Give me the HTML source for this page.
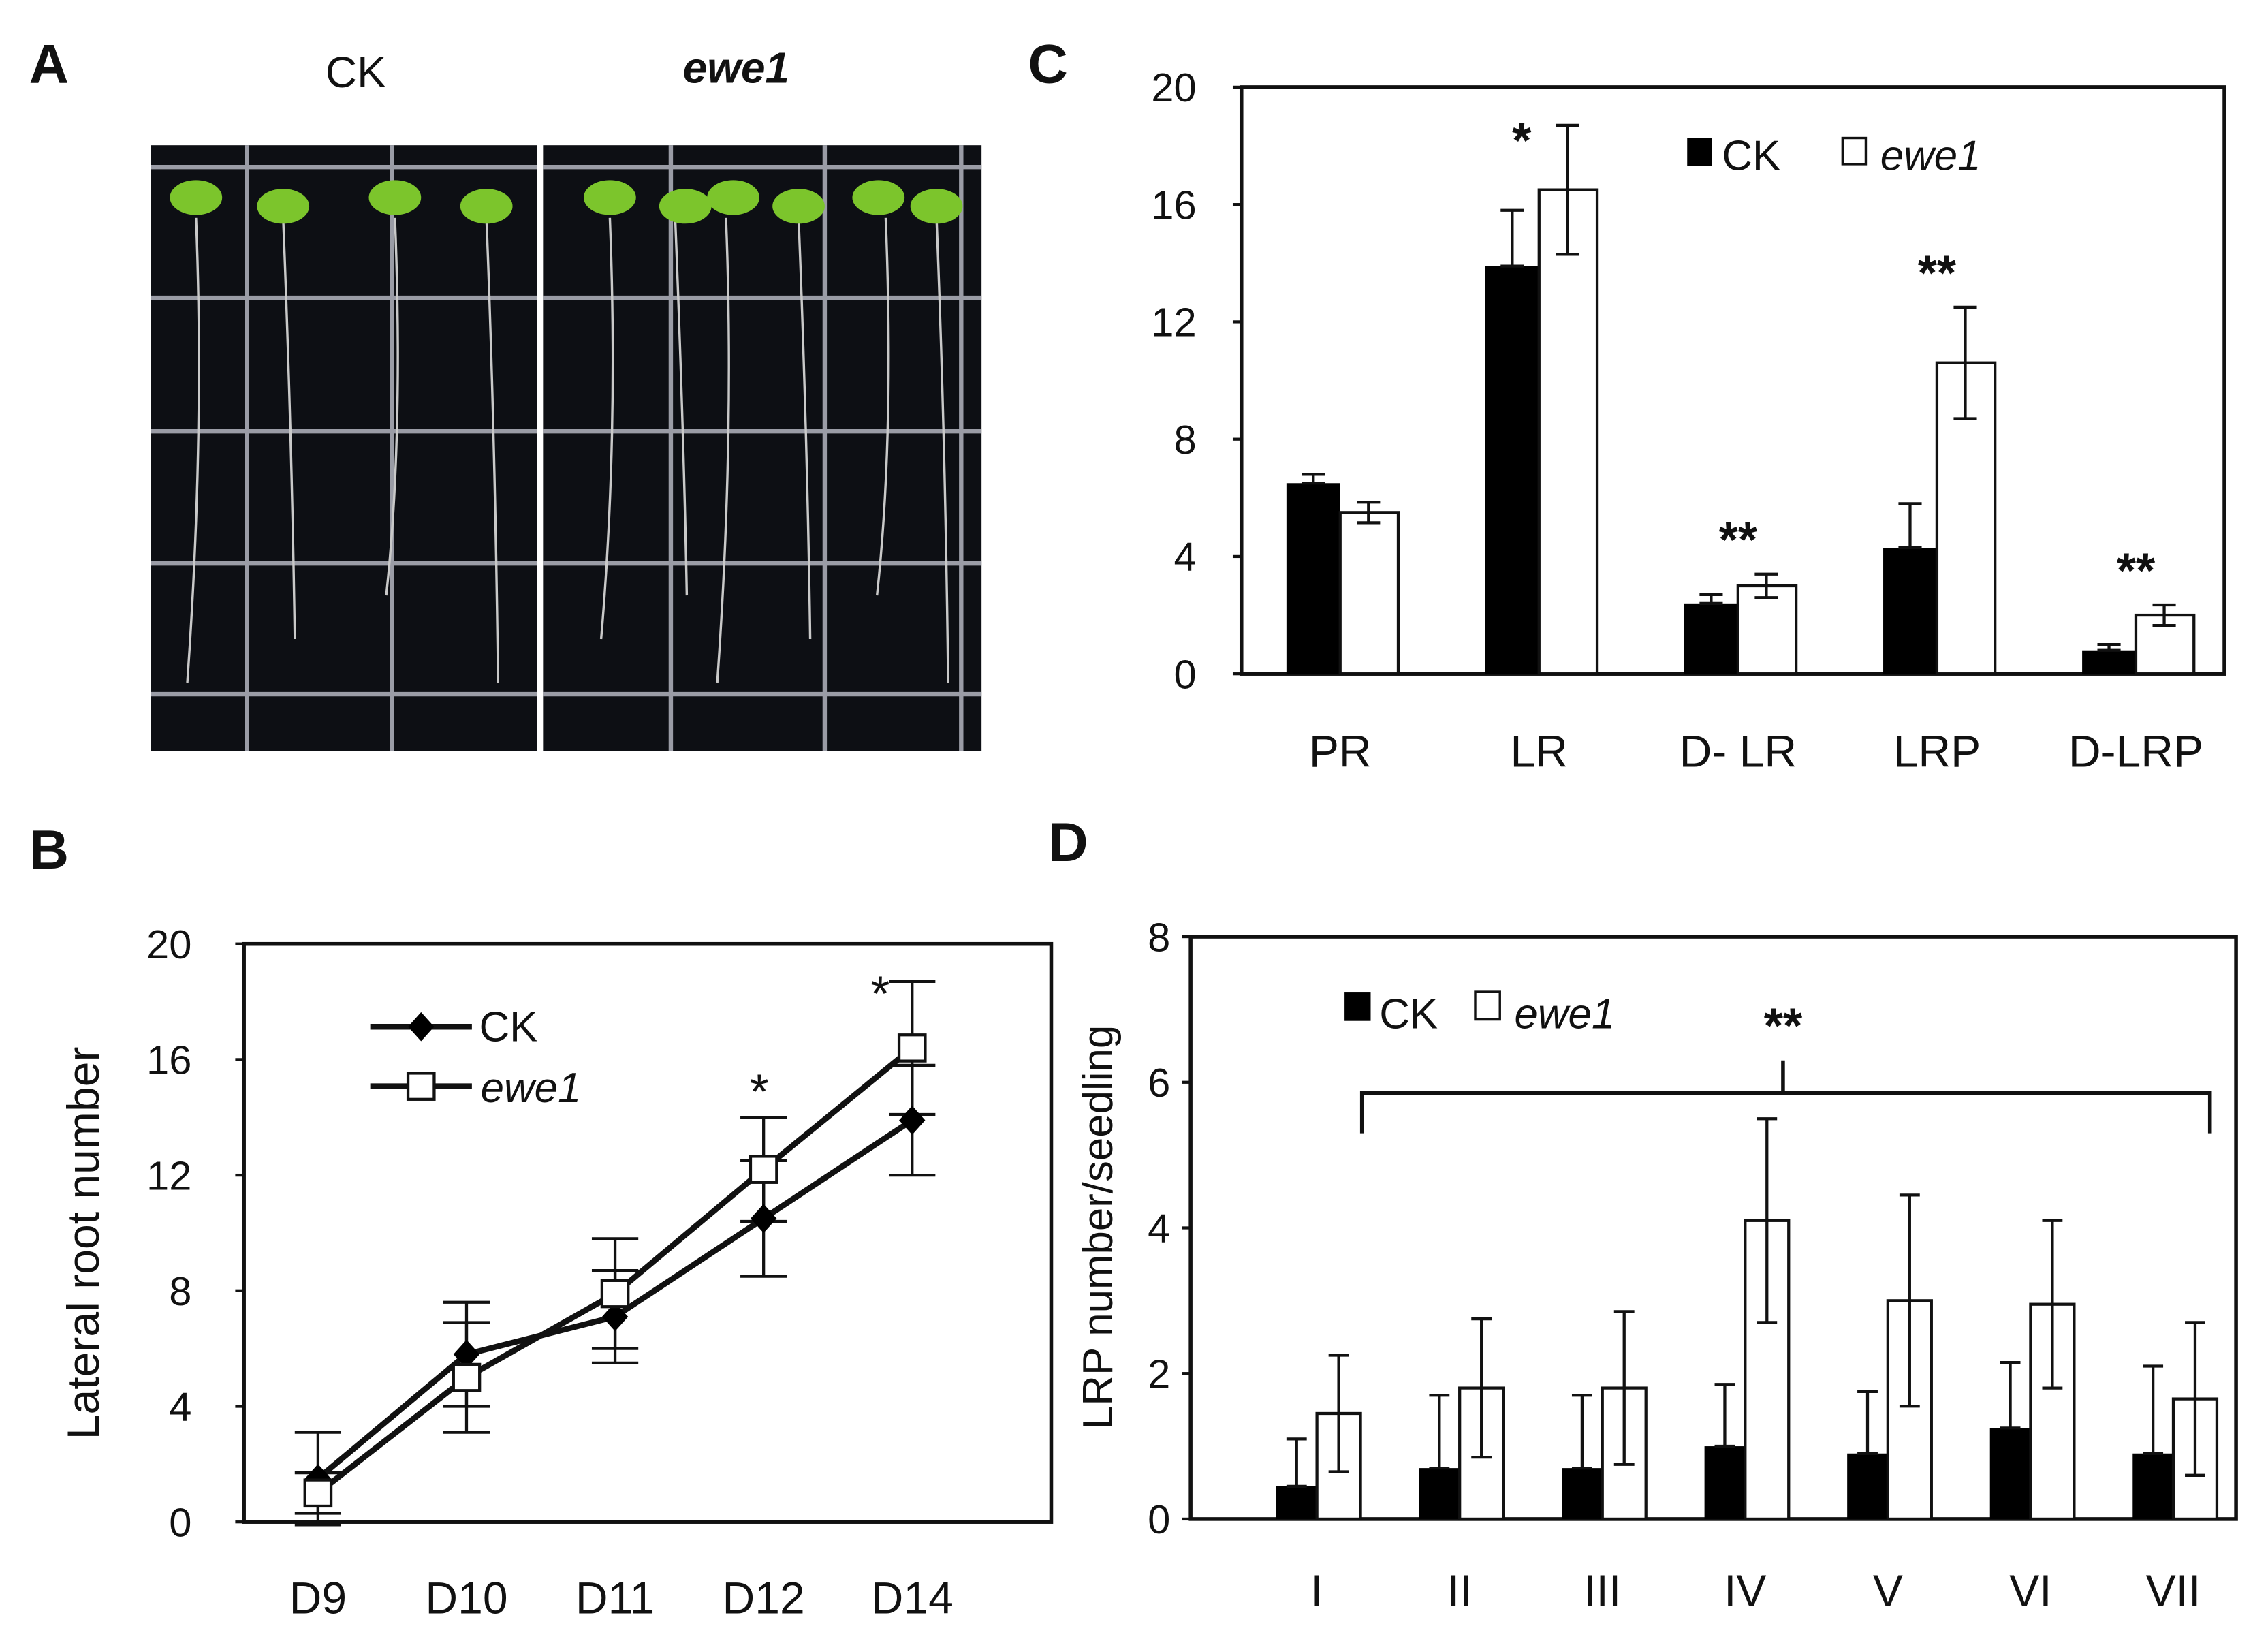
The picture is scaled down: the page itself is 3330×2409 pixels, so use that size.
<!DOCTYPE html>
<html><head><meta charset="utf-8"><style>
html,body{margin:0;padding:0;background:#fff}
svg{display:block}
text{font-family:"Liberation Sans",sans-serif;fill:#111}
</style></head><body>
<svg id="fig" width="3330" height="2409" viewBox="0 0 1562 1130" xmlns="http://www.w3.org/2000/svg">
<g>
<text x="20" y="57" font-size="38" font-weight="bold">A</text>
<text x="245" y="60" font-size="30" text-anchor="middle">CK</text>
<text x="507" y="57" font-size="30" font-style="italic" font-weight="bold" text-anchor="middle">ewe1</text>
<rect x="104" y="100" width="266" height="417" fill="#0d0f14"/>
<rect x="374" y="100" width="302" height="417" fill="#0d0f14"/>
<g id="photoGrid" stroke="#9a9ca6" stroke-width="3"></g>
<g id="photoRoots" stroke="#c9c9c9" stroke-width="1.6" fill="none"></g>
<g id="photoLeaves" fill="#7cc52c"></g>
</g>

<g id="panelB">
<text x="20" y="598" font-size="38" font-weight="bold">B</text>
</g>
<g id="panelC">
<text x="708" y="57" font-size="38" font-weight="bold">C</text>
</g>
<g id="panelD">
<text x="722" y="593" font-size="38" font-weight="bold">D</text>
</g>
</svg>
<script>
// ---- Panel B data
const bCats = ["D9","D10","D11","D12","D14"];
const bCK = [1.5,5.8,7.1,10.5,13.9];
const bCKerr = [1.6,1.8,1.6,2.0,1.9];
const bEwe = [1.0,5.0,7.9,12.2,16.4];
const bEweErr = [0.7,1.9,1.9,1.8,2.3];
const bTicks = [0,4,8,12,16,20];
// ---- Panel C data
const cCats = ["PR","LR","D- LR","LRP","D-LRP"];
const cCK = [6.5,13.9,2.4,4.3,0.8];
const cCKerr = [0.3,1.9,0.3,1.5,0.2];
const cEwe = [5.5,16.5,3.0,10.6,2.0];
const cEweErr = [0.35,2.2,0.4,1.9,0.35];
const cSig = ["","*","**","**","**"];
const cTicks = [0,4,8,12,16,20];
// ---- Panel D data
const dCats = ["I","II","III","IV","V","VI","VII"];
const dCK = [0.45,0.7,0.7,1.0,0.9,1.25,0.9];
const dCKerr = [0.65,1.0,1.0,0.85,0.85,0.9,1.2];
const dEwe = [1.45,1.8,1.8,4.1,3.0,2.95,1.65];
const dEweErr = [0.8,0.95,1.05,1.4,1.45,1.15,1.05];
const dTicks = [0,2,4,6,8];

const NS="http://www.w3.org/2000/svg";
function mk(parent,tag,attrs,txt){const e=document.createElementNS(NS,tag);for(const k in attrs)e.setAttribute(k,attrs[k]);if(txt!==undefined)e.textContent=txt;parent.appendChild(e);return e;}

// ---- Panel A decorations
(function(){
  const g=document.getElementById('photoGrid');
  [[104,370],[374,676]].forEach(([a,b])=>{
    [115,205,297,388,478].forEach(y=>{const l=mk(g,'line',{x1:a,x2:b,y1:y,y2:y});
      
      });
  });
  [170,270,462,568,662].forEach(x=>{const l=mk(g,'line',{x1:x,x2:x,y1:100,y2:517});
    
    });
  const r=document.getElementById('photoRoots');
  [135,195,272,335,420,465,500,550,610,645].forEach((x,i)=>{const p=mk(r,'path',{d:`M${x} 150 Q${x+6} 300 ${x+(i%2?8:-6)} ${470-(i%3)*30}`});
    
    });
  const lv=document.getElementById('photoLeaves');
  [135,195,272,335,420,472,505,550,605,645].forEach((x,i)=>{const c=mk(lv,'ellipse',{cx:x,cy:136+(i%2)*6,rx:18,ry:12});
    
    });
})();

function axisBox(g,L,R,T,B,ticks,max,ticklabelX){
  const y=v=>B-(v/max)*(B-T);
  const box=mk(g,'rect',{x:L,y:T,width:R-L,height:B-T,fill:'none',stroke:'#111','stroke-width':2.6});
  
  
  ticks.forEach(t=>{
    const tl=mk(g,'line',{x1:L-6,x2:L,y1:y(t),y2:y(t),stroke:'#111','stroke-width':2});
    
    
    const tx=mk(g,'text',{x:ticklabelX,y:y(t)+10,'font-size':28,'text-anchor':'end'},String(t));
    
    
  });
  return y;
}
function errBar(g,x,top,bot,cap){
  const p=mk(g,'path',{d:`M${x} ${top}V${bot}M${x-cap} ${top}H${x+cap}M${x-cap} ${bot}H${x+cap}`,stroke:'#111','stroke-width':2,fill:'none'});
  
  
}

// ---- Panel C
(function(){
  const g=document.getElementById('panelC');
  const L=855,R=1532,T=60,B=464,max=20;
  const y=axisBox(g,L,R,T,B,cTicks,max,824);
  const step=137,first=923,bw=37;
  cCats.forEach((c,i)=>{
    const cx=first+i*step;
    const b1=mk(g,'rect',{x:cx-bw,y:y(cCK[i]),width:bw,height:B-y(cCK[i]),fill:'#000'});
    
    
    const b2=mk(g,'rect',{x:cx,y:y(cEwe[i]),width:bw+3,height:B-y(cEwe[i]),fill:'#fff',stroke:'#111','stroke-width':2});
    
    
    errBar(g,cx-bw/2,y(cCK[i]+cCKerr[i]),y(cCK[i]),8);
    errBar(g,cx+bw/2+1,y(cEwe[i]+cEweErr[i]),y(cEwe[i]-cEweErr[i]),8);
    const lb=mk(g,'text',{x:cx,y:528,'font-size':31,'text-anchor':'middle'},c);
    
    
    if(cSig[i]){
      const top=Math.max(cCK[i]+cCKerr[i],cEwe[i]+cEweErr[i]);
      const sx=i===1?cx-12:cx;
      const sy=i===1?y(top)+22:y(top)-12;
      const s=mk(g,'text',{x:sx,y:sy,'font-size':34,'font-weight':'bold','text-anchor':'middle'},cSig[i]);
      
      
    }
  });
  const lk=mk(g,'rect',{x:1162,y:95,width:17,height:19,fill:'#000'});
  
  const lt=mk(g,'text',{x:1186,y:117,'font-size':29},'CK');
  
  const le=mk(g,'rect',{x:1269,y:95,width:16,height:18,fill:'#fff',stroke:'#111','stroke-width':1.6});
  
  const lt2=mk(g,'text',{x:1295,y:117,'font-size':29,'font-style':'italic'},'ewe1');
  
})();

// ---- Panel B
(function(){
  const g=document.getElementById('panelB');
  const L=168,R=724,T=650,B=1048,max=20;
  const y=axisBox(g,L,R,T,B,bTicks,max,132);
  const x=i=>219+i*102.3;
  const title=mk(g,'text',{x:0,y:0,'font-size':31,'text-anchor':'middle',transform:'translate(68,856) rotate(-90)'},'Lateral root number');
  
  bCats.forEach((c,i)=>{
    const lb=mk(g,'text',{x:x(i),y:1111,'font-size':31,'text-anchor':'middle'},c);
    
    errBar(g,x(i),y(bCK[i]+bCKerr[i]),y(bCK[i]-bCKerr[i]),16);
    errBar(g,x(i),y(bEwe[i]+bEweErr[i]),y(bEwe[i]-bEweErr[i]),16);
  });
  const pts=a=>a.map((v,i)=>`${x(i)},${y(v)}`).join(' ');
  const l1=mk(g,'polyline',{points:pts(bCK),fill:'none',stroke:'#111','stroke-width':4});
  
  const l2=mk(g,'polyline',{points:pts(bEwe),fill:'none',stroke:'#111','stroke-width':4});
  
  bCK.forEach((v,i)=>{
    const d=mk(g,'path',{d:`M${x(i)} ${y(v)-10}l9 10l-9 10l-9 -10z`,fill:'#000'});
    
  });
  bEwe.forEach((v,i)=>{
    const s=mk(g,'rect',{x:x(i)-9,y:y(v)-9,width:18,height:18,fill:'#fff',stroke:'#111','stroke-width':2});
    
  });
  [[3,'*'],[4,'*']].forEach(([i,s])=>{
    const top=Math.max(bCK[i]+bCKerr[i],bEwe[i]+bEweErr[i]);
    const t=mk(g,'text',{x:x(i)-(i===4?22:3),y:y(top)-(i===4?-20:12)+(i===3?6:0),'font-size':34,'text-anchor':'middle'},s);
    
  });
  const ll=mk(g,'path',{d:'M255 707H325M255 748H325',stroke:'#111','stroke-width':4});
  
  const ld=mk(g,'path',{d:'M290 697l9 10l-9 10l-9 -10z',fill:'#000'});
  
  const ls=mk(g,'rect',{x:281,y:739,width:18,height:18,fill:'#fff',stroke:'#111','stroke-width':2});
  
  const t1=mk(g,'text',{x:330,y:717,'font-size':29},'CK');
  
  const t2=mk(g,'text',{x:331,y:759,'font-size':29,'font-style':'italic'},'ewe1');
  
})();

// ---- Panel D
(function(){
  const g=document.getElementById('panelD');
  const L=820,R=1540,T=645,B=1046,max=8;
  const y=axisBox(g,L,R,T,B,dTicks,max,806);
  const title=mk(g,'text',{x:0,y:0,'font-size':29,'text-anchor':'middle',transform:'translate(766,845) rotate(-90)'},'LRP number/seedling');
  
  const cx=i=>907+i*98.3, bw=28;
  dCats.forEach((c,i)=>{
    const x=cx(i);
    const b1=mk(g,'rect',{x:x-bw,y:y(dCK[i]),width:bw,height:B-y(dCK[i]),fill:'#000'});
    
    const b2=mk(g,'rect',{x:x,y:y(dEwe[i]),width:bw+2,height:B-y(dEwe[i]),fill:'#fff',stroke:'#111','stroke-width':2});
    
    errBar(g,x-bw/2,y(dCK[i]+dCKerr[i]),y(dCK[i]),7);
    errBar(g,x+bw/2+1,y(dEwe[i]+dEweErr[i]),y(dEwe[i]-dEweErr[i]),7);
    const lb=mk(g,'text',{x:x,y:1106,'font-size':31,'text-anchor':'middle'},c);
    
  });
  const br=mk(g,'path',{d:`M938 ${y(5.3)}V${y(5.85)}H1522V${y(5.3)}M1228 ${y(5.85)}V${y(6.3)}`,fill:'none',stroke:'#111','stroke-width':2.6});
  
  const st=mk(g,'text',{x:1228,y:718,'font-size':34,'font-weight':'bold','text-anchor':'middle'},'**');
  
  const lk=mk(g,'rect',{x:926,y:683,width:18,height:20,fill:'#000'});
  
  const lt=mk(g,'text',{x:950,y:708,'font-size':29},'CK');
  
  const le=mk(g,'rect',{x:1016,y:683,width:17,height:19,fill:'#fff',stroke:'#111','stroke-width':1.6});
  
  const lt2=mk(g,'text',{x:1043,y:708,'font-size':29,'font-style':'italic'},'ewe1');
  
})();
</script>
</body></html>
